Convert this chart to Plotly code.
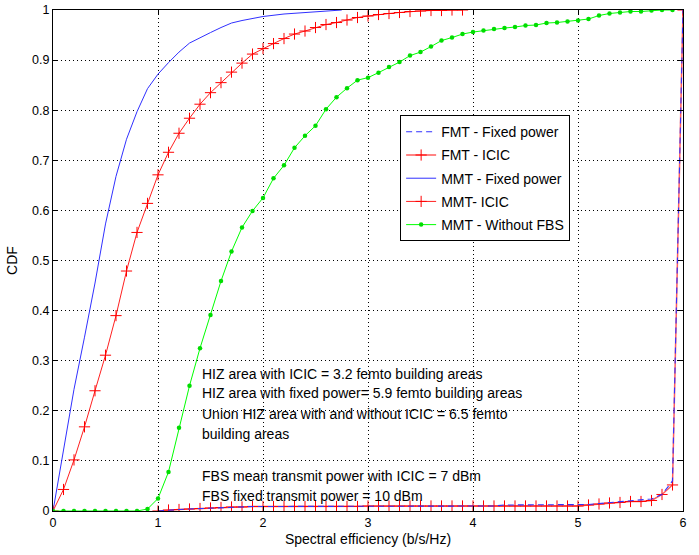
import plotly.graph_objects as go

# Spectral-efficiency CDFs for femto (FMT) and macro (MMT) users
x_mmt_icic = [0.0, 0.1, 0.2, 0.3, 0.4, 0.5, 0.6, 0.7, 0.8, 0.9,
              1.0, 1.1, 1.2, 1.3, 1.4, 1.5, 1.6, 1.7, 1.8, 1.9,
              2.0, 2.1, 2.2, 2.3, 2.4, 2.5, 2.6, 2.7, 2.8, 2.9,
              3.0, 3.1, 3.2, 3.3, 3.4, 3.5, 3.6, 3.7, 3.8, 3.9]
cdf_mmt_icic = [0.0, 0.043, 0.102, 0.168, 0.240, 0.311, 0.390, 0.479, 0.556, 0.614,
                0.671, 0.716, 0.754, 0.784, 0.812, 0.835, 0.855, 0.876, 0.894, 0.912,
                0.923, 0.933, 0.943, 0.952, 0.958, 0.965, 0.971, 0.975, 0.980, 0.985,
                0.988, 0.991, 0.993, 0.995, 0.997, 0.998, 0.999, 0.999, 1.0, 1.0]

x_mmt_fixed = [0.0, 0.1, 0.2, 0.3, 0.4, 0.5, 0.6, 0.7, 0.8, 0.9,
               1.0, 1.1, 1.2, 1.3, 1.4, 1.5, 1.6, 1.7, 1.8, 1.9,
               2.0, 2.2, 2.4, 2.6, 2.75]
cdf_mmt_fixed = [0.0, 0.120, 0.243, 0.347, 0.455, 0.573, 0.668, 0.742, 0.797, 0.843,
                 0.872, 0.895, 0.916, 0.934, 0.945, 0.955, 0.965, 0.974, 0.979, 0.983,
                 0.987, 0.992, 0.995, 0.998, 1.0]

x_mmt_nofbs = [0.0, 0.1, 0.2, 0.3, 0.4, 0.5, 0.6, 0.7, 0.8, 0.9,
               1.0, 1.1, 1.2, 1.3, 1.4, 1.5, 1.6, 1.7, 1.8, 1.9,
               2.0, 2.1, 2.2, 2.3, 2.4, 2.5, 2.6, 2.7, 2.8, 2.9,
               3.0, 3.1, 3.2, 3.3, 3.4, 3.5, 3.6, 3.7, 3.8, 3.9,
               4.0, 4.1, 4.2, 4.3, 4.4, 4.5, 4.6, 4.7, 4.8, 4.9,
               5.0, 5.1, 5.2, 5.3, 5.4, 5.5, 5.6, 5.7, 5.8, 5.9]
cdf_mmt_nofbs = [0.0, 0.0, 0.0, 0.0, 0.0, 0.0, 0.0, 0.0, 0.0, 0.004,
                 0.025, 0.078, 0.166, 0.250, 0.325, 0.391, 0.459, 0.518, 0.566, 0.599,
                 0.625, 0.664, 0.690, 0.725, 0.749, 0.769, 0.802, 0.826, 0.844, 0.860,
                 0.865, 0.875, 0.886, 0.896, 0.909, 0.916, 0.927, 0.939, 0.945, 0.952,
                 0.956, 0.959, 0.962, 0.964, 0.966, 0.969, 0.970, 0.974, 0.975, 0.977,
                 0.979, 0.982, 0.989, 0.993, 0.995, 0.997, 0.997, 0.999, 1.0, 1.0]

x_fmt = [1.0, 1.1, 1.2, 1.3, 1.4, 1.5, 1.6, 1.7, 1.8, 1.9,
         2.0, 2.1, 2.2, 2.3, 2.4, 2.5, 2.6, 2.7, 2.8, 2.9,
         3.0, 3.1, 3.2, 3.3, 3.4, 3.5, 3.6, 3.7, 3.8, 3.9,
         4.0, 4.1, 4.2, 4.3, 4.4, 4.5, 4.6, 4.7, 4.8, 4.9,
         5.0, 5.1, 5.2, 5.3, 5.4, 5.5, 5.6, 5.7, 5.8, 5.9, 6.0]
cdf_fmt_icic = [0.0, 0.002, 0.003, 0.004, 0.005, 0.006, 0.007, 0.008, 0.008, 0.009,
                0.009, 0.009, 0.009, 0.009, 0.009, 0.009, 0.009, 0.009, 0.009, 0.009,
                0.010, 0.010, 0.010, 0.010, 0.010, 0.010, 0.010, 0.010, 0.010, 0.010,
                0.010, 0.010, 0.010, 0.010, 0.010, 0.010, 0.010, 0.010, 0.010, 0.010,
                0.010, 0.012, 0.014, 0.016, 0.017, 0.019, 0.019, 0.021, 0.033, 0.052, 1.0]
cdf_fmt_fixed = [0.0, 0.002, 0.003, 0.004, 0.005, 0.006, 0.007, 0.008, 0.008, 0.009,
                 0.009, 0.009, 0.009, 0.009, 0.009, 0.009, 0.009, 0.009, 0.009, 0.009,
                 0.010, 0.010, 0.010, 0.010, 0.010, 0.010, 0.010, 0.010, 0.010, 0.010,
                 0.010, 0.010, 0.010, 0.012, 0.012, 0.012, 0.012, 0.012, 0.012, 0.012,
                 0.012, 0.013, 0.015, 0.017, 0.019, 0.020, 0.022, 0.024, 0.033, 0.060, 1.0]

notes = [
    ("HIZ area with ICIC = 3.2 femto building areas", 0.273),
    ("HIZ area with fixed power= 5.9 femto building areas", 0.236),
    ("Union HIZ area with and without ICIC = 6.5 femto", 0.194),
    ("building areas", 0.154),
    ("FBS mean transmit power with ICIC = 7 dBm", 0.070),
    ("FBS fixed transmit power = 10 dBm", 0.030),
]

FONT = "Liberation Sans, Arial, sans-serif"

fig = go.Figure()

fig.add_trace(go.Scatter(
    x=x_fmt, y=cdf_fmt_icic, name="FMT - ICIC", mode="lines+markers",
    line=dict(color="rgba(255,50,50,0.8)", width=1.5),
    marker=dict(symbol="cross-thin", size=8, line=dict(color="red", width=1)),
    legendrank=2, legendgroup="b"))
fig.add_trace(go.Scatter(
    x=x_fmt, y=cdf_fmt_fixed, name="FMT - Fixed power", mode="lines",
    line=dict(color="#3030ff", width=1.1, dash="6px,4px"),
    legendrank=1, legendgroup="a"))
fig.add_trace(go.Scatter(
    x=x_mmt_fixed, y=cdf_mmt_fixed, name="MMT - Fixed power", mode="lines",
    line=dict(color="#3030ff", width=1),
    legendrank=3, legendgroup="c"))
fig.add_trace(go.Scatter(
    x=x_mmt_icic, y=cdf_mmt_icic, name="MMT- ICIC", mode="lines+markers",
    line=dict(color="#ff2020", width=1),
    marker=dict(symbol="cross-thin", size=8, line=dict(color="red", width=1)),
    legendrank=4, legendgroup="d"))
fig.add_trace(go.Scatter(
    x=x_mmt_nofbs, y=cdf_mmt_nofbs, name="MMT - Without FBS", mode="lines+markers",
    line=dict(color="#00ff00", width=1),
    marker=dict(symbol="circle", size=4.5, color="#00dd00"),
    legendrank=5, legendgroup="e"))

for text, yv in notes:
    fig.add_annotation(x=1.4, y=yv, xref="x", yref="y", text=text, showarrow=False,
                       xanchor="left", yanchor="middle",
                       font=dict(family=FONT, size=14, color="black"))

axis_common = dict(
    showline=True, linecolor="black", linewidth=1, mirror="ticks",
    ticks="inside", ticklen=5, tickcolor="black", tickwidth=1,
    showgrid=True, gridcolor="black", gridwidth=1, griddash="1px,3px",
    zeroline=False, automargin=False,
    tickfont=dict(family=FONT, size=12.5, color="black"),
)

fig.update_xaxes(range=[0, 6], tickvals=[0, 1, 2, 3, 4, 5, 6],
                 title=dict(text="Spectral efficiency (b/s/Hz)", standoff=5,
                            font=dict(family=FONT, size=14, color="black")),
                 **axis_common)
fig.update_yaxes(range=[0, 1],
                 tickvals=[0, 0.1, 0.2, 0.3, 0.4, 0.5, 0.6, 0.7, 0.8, 0.9, 1],
                 ticktext=["0", "0.1", "0.2", "0.3", "0.4", "0.5", "0.6", "0.7", "0.8", "0.9", "1"],
                 title=dict(text="CDF", standoff=11,
                            font=dict(family=FONT, size=14, color="black")),
                 **axis_common)

fig.update_layout(
    width=699, height=555,
    margin=dict(l=53, r=16, t=10, b=44),
    paper_bgcolor="white", plot_bgcolor="white",
    font=dict(family=FONT, color="black"),
    legend=dict(x=0.551, y=0.79, xanchor="left", yanchor="top",
                bgcolor="white", bordercolor="black", borderwidth=1,
                font=dict(family=FONT, size=14, color="black"),
                tracegroupgap=2, itemwidth=30),
)

fig.write_html("out.html")
